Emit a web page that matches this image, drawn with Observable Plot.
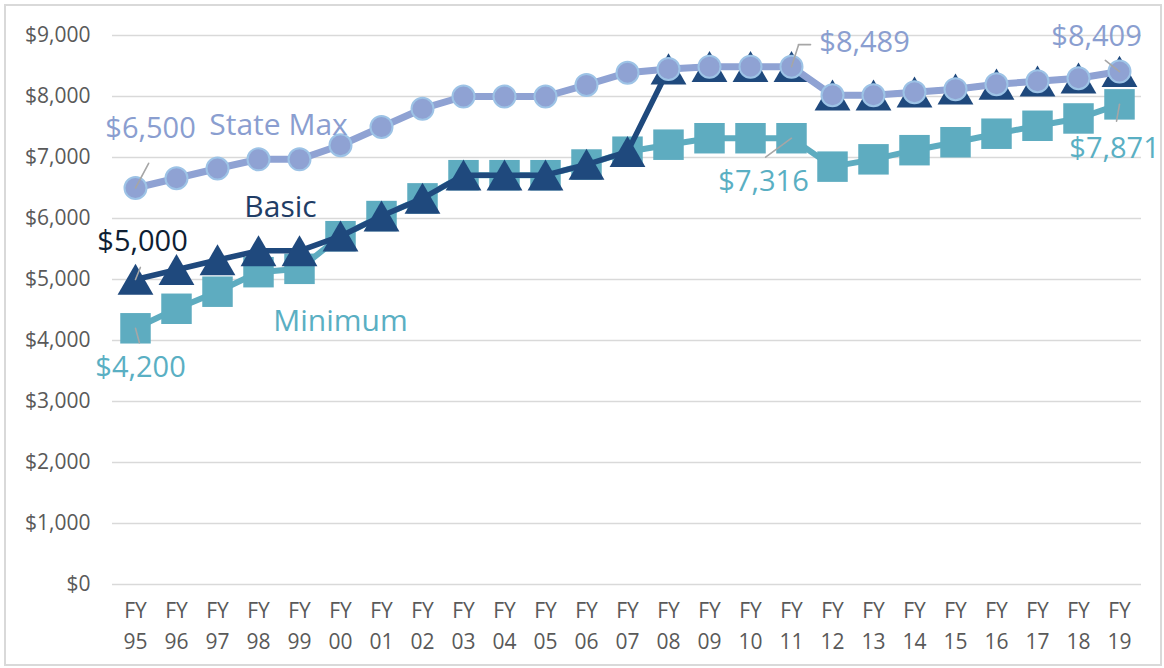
<!DOCTYPE html>
<html>
<head>
<meta charset="utf-8">
<script src="https://cdn.jsdelivr.net/npm/d3@7"></script>
<script src="https://cdn.jsdelivr.net/npm/@observablehq/plot@0.6"></script>
<style>
  body { margin: 0; background: #fff; }
  #wrap { position: relative; width: 1164px; height: 668px; overflow: hidden; }
  #frame { position: absolute; left: 4px; top: 4px; width: 1154px; height: 658px; border: 2px solid #d9d9d9; pointer-events: none; }
</style>
</head>
<body>
<div id="wrap"><div id="frame"></div></div>
<script>
// ---- data ----
const years = ["95","96","97","98","99","00","01","02","03","04","05","06","07","08","09","10","11","12","13","14","15","16","17","18","19"];
const stateMax = [6500,6660,6820,6970,6970,7200,7500,7800,8000,8000,8000,8190,8390,8450,8489,8489,8489,8020,8020,8070,8120,8200,8250,8300,8409];
const basic    = [5000,5160,5320,5470,5470,5710,6040,6330,6710,6710,6710,6885,7095,8450,8489,8489,8489,8020,8020,8070,8120,8200,8250,8300,8409];
const minimum  = [4200,4520,4800,5120,5175,5710,6040,6330,6710,6710,6710,6885,7095,7210,7316,7316,7316,6850,6970,7120,7250,7390,7520,7640,7871];
const seriesNames = ["State Max", "Basic", "Minimum"];
const yTicks = [0,1000,2000,3000,4000,5000,6000,7000,8000,9000];

const C_MAX = "#8fa2d3", C_MAX_EDGE = "#9dc3e6", C_BASIC = "#1f497d", C_MIN = "#5eacc0";
const LEADER = "#a6a6a6";
const money = v => "$" + d3.format(",")(v);

const rowsOf = (arr, name) => arr.map((v, i) => ({year: years[i], value: v, series: name}));
const rMax = rowsOf(stateMax, seriesNames[0]);
const rBasic = rowsOf(basic, seriesNames[1]);
const rMin = rowsOf(minimum, seriesNames[2]);

const lineShape = {draw(ctx, l) { ctx.moveTo(0, 0); ctx.lineTo(0, -l); }};
const leader = (rows, i, length, rotate, extra = {}) =>
  Plot.vector([rows[i]], {x: "year", y: "value", length, rotate,
    anchor: "start", shape: lineShape, stroke: LEADER, strokeWidth: 1.6, ...extra});
const label = (rows, i, text, color, dx, dy, size = 29) =>
  Plot.text([rows[i]], {x: "year", y: "value", text: () => text, fill: color, dx, dy,
    fontSize: size, fontFamily: "Open Sans"});

const chart = Plot.plot({
  width: 1164, height: 668,
  marginLeft: 112, marginRight: 23, marginTop: 35, marginBottom: 84,
  style: {fontFamily: "Open Sans", fontSize: "21px", background: "transparent", overflow: "visible"},
  x: {type: "point", domain: years, padding: 0.5},
  y: {domain: [0, 9000]},
  marks: [
    Plot.gridY(yTicks, {stroke: "#d9d9d9", strokeOpacity: 1, strokeWidth: 1.6}),
    Plot.axisY(yTicks, {tickSize: 0, tickPadding: 22, tickFormat: money, fontSize: 21, color: "#595959", label: null}),
    Plot.axisX({tickSize: 0, tickPadding: 11, tickFormat: d => "FY\n" + d, fontSize: 21, lineHeight: 1.48, color: "#595959", label: null}),
    // Minimum
    Plot.line(rMin, {x: "year", y: "value", stroke: C_MIN, strokeWidth: 6}),
    Plot.dot(rMin, {x: "year", y: "value", symbol: "square", r: 17.2, fill: C_MIN, stroke: "none"}),
    // Basic
    Plot.line(rBasic, {x: "year", y: "value", stroke: C_BASIC, strokeWidth: 5.5}),
    Plot.dot(rBasic, {x: "year", y: "value", symbol: "triangle", r: 13.3, fill: C_BASIC, stroke: "none", dy: 5}),
    // State Max
    Plot.line(rMax, {x: "year", y: "value", stroke: C_MAX, strokeWidth: 7}),
    Plot.dot(rMax, {x: "year", y: "value", r: 11, fill: C_MAX, stroke: C_MAX_EDGE, strokeWidth: 2}),
    // leader lines
    leader(rMax, 0, 28, 28),
    leader(rBasic, 0, 13, 22),
    leader(rMin, 0, 15, 165),
    leader(rMin, 16, 32, 234),
    leader(rMax, 16, 23, 18),
    leader(rMax, 16, 12, 90, {dx: 7, dy: -22}),
    leader(rMax, 24, 18, 308),
    leader(rMin, 24, 17, 190),
    // value labels
    label(rMax, 0, money(stateMax[0]), "#8a9ed0", 15, -59),
    label(rBasic, 0, money(basic[0]), "#0e1e33", 7, -38),
    label(rMin, 0, money(minimum[0]), "#5aafc3", 5, 39),
    label(rMin, 16, money(minimum[16]), "#5aafc3", -28, 43),
    label(rMax, 16, money(stateMax[16]), "#8a9ed0", 73, -24),
    label(rMax, 24, money(stateMax[24]), "#8a9ed0", -23, -35),
    label(rMin, 24, money(minimum[24]), "#5aafc3", -5, 44),
    // series labels
    label(rMax, 3, seriesNames[0], "#8a9ed0", 20, -34, 30),
    label(rBasic, 3, seriesNames[1], "#1f3d66", 22, -43, 30),
    label(rMin, 5, seriesNames[2], "#5aafc3", 0, 85, 30)
  ]
});
document.getElementById("wrap").prepend(chart);
</script>
</body>
</html>
